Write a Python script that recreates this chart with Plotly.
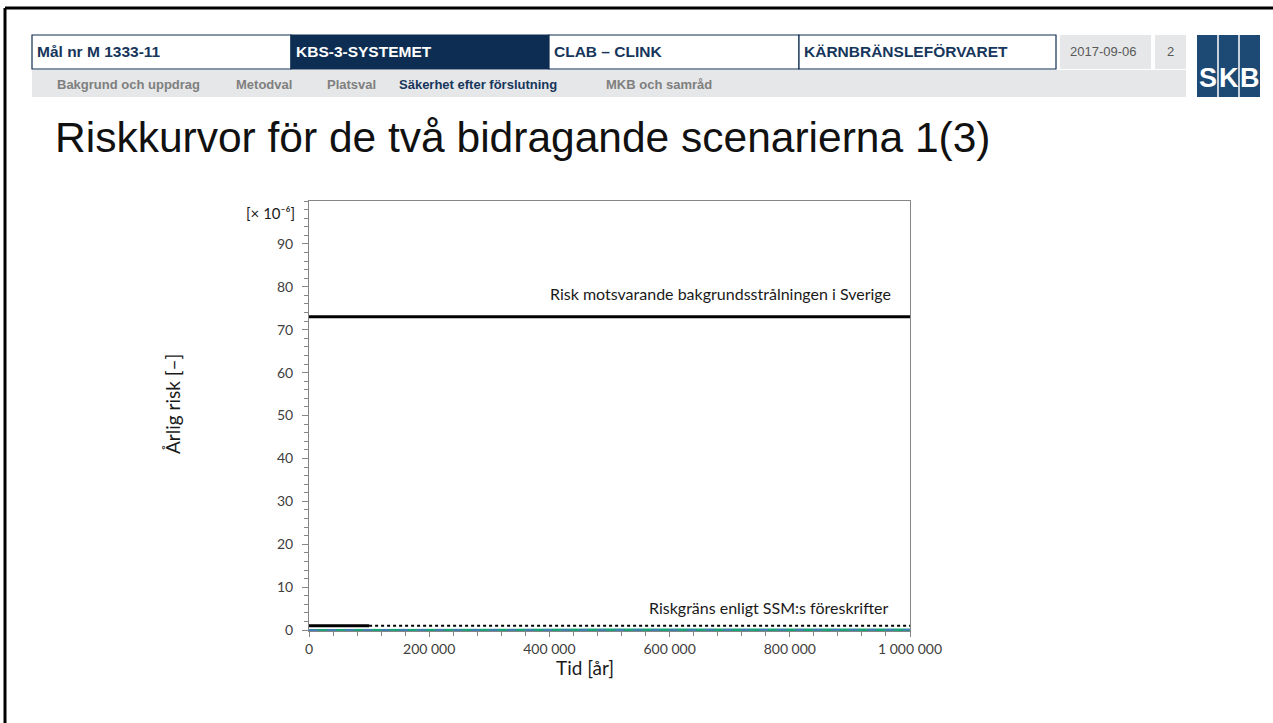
import plotly.graph_objects as go

W, H = 1273, 723

# ---------------- data ----------------
time_bg = [0, 1000000]
risk_bg = [73, 73]                      # background radiation risk (x1e-6)
time_limit_solid = [0, 100000]
risk_limit_solid = [1, 1]
time_limit_dotted = [100000, 1000000]
risk_limit_dotted = [1, 1]
time_scen = [0, 100000, 200000, 300000, 400000, 500000, 600000, 700000, 800000, 900000, 1000000]
risk_scen_a = [0.0, 0.05, 0.06, 0.07, 0.07, 0.08, 0.08, 0.08, 0.09, 0.09, 0.09]   # green
risk_scen_b = [0.0, 0.04, 0.05, 0.05, 0.06, 0.06, 0.06, 0.07, 0.07, 0.07, 0.07]   # blue dashed

x_tickvals = [0, 200000, 400000, 600000, 800000, 1000000]
x_ticktext = ["0", "200 000", "400 000", "600 000", "800 000", "1 000 000"]
y_tickvals = [0, 10, 20, 30, 40, 50, 60, 70, 80, 90]
y_ticktext = ["0", "10", "20", "30", "40", "50", "60", "70", "80", "90"]

header_row1 = ["Mål nr M 1333-11", "KBS-3-SYSTEMET", "CLAB – CLINK", "KÄRNBRÄNSLEFÖRVARET"]
header_row2 = ["Bakgrund och uppdrag", "Metodval", "Platsval", "Säkerhet efter förslutning", "MKB och samråd"]
header_date = "2017-09-06"
header_page = "2"
title_text = "Riskkurvor för de två bidragande scenarierna 1(3)"

# ---------------- helpers ----------------
def px(x):
    return x / W

def py(y):
    return 1 - y / H

NAVY = "#0e2d53"
NAVY_TXT = "#16365c"
GRAY_BG = "#e6e7e8"
GRAY_TXT = "#7f7f7f"
AXIS = "#868686"
TICKFONT = dict(family="Lato, 'Open Sans', sans-serif", size=14, color="#404040")
LBLFONT = dict(family="Lato, 'Open Sans', sans-serif", size=16, color="#1a1a1a")
TITLEFONT = dict(family="Lato, 'Open Sans', sans-serif", size=19, color="#1a1a1a")
HFONT = "Liberation Sans, Arial, sans-serif"

fig = go.Figure()

fig.add_trace(go.Scatter(x=time_bg, y=risk_bg, mode="lines",
                         line=dict(color="black", width=3), showlegend=False, hoverinfo="skip"))
fig.add_trace(go.Scatter(x=time_limit_solid, y=risk_limit_solid, mode="lines",
                         line=dict(color="black", width=3), showlegend=False, hoverinfo="skip"))
fig.add_trace(go.Scatter(x=time_limit_dotted, y=risk_limit_dotted, mode="lines",
                         line=dict(color="black", width=2, dash="dot"), showlegend=False, hoverinfo="skip"))
fig.add_trace(go.Scatter(x=time_scen, y=risk_scen_a, mode="lines",
                         line=dict(color="#1aa37a", width=2.5), showlegend=False, hoverinfo="skip"))
fig.add_trace(go.Scatter(x=time_scen, y=risk_scen_b, mode="lines",
                         line=dict(color="#4a78c0", width=1.5, dash="dash"), showlegend=False, hoverinfo="skip"))

x0p, x1p = 309, 910
ytop, ybot = 201, 631

fig.update_layout(
    width=W, height=H,
    margin=dict(l=0, r=0, t=0, b=0, autoexpand=False),
    paper_bgcolor="white", plot_bgcolor="white",
    showlegend=False,
    xaxis=dict(domain=[px(x0p), px(x1p)], range=[0, 1000000],
               tickvals=x_tickvals, ticktext=x_ticktext,
               showgrid=False, zeroline=False, layer="below traces",
               showline=True, mirror=True, linecolor=AXIS, linewidth=1,
               ticks="outside", ticklen=5, tickcolor=AXIS,
               minor=dict(dtick=40000, ticks="outside", ticklen=4, tickcolor=AXIS),
               tickfont=TICKFONT, ticklabelstandoff=0),
    yaxis=dict(domain=[py(ybot), py(ytop)], range=[-0.2, 100],
               tickvals=y_tickvals, ticktext=y_ticktext,
               showgrid=False, zeroline=False, layer="below traces",
               showline=True, mirror=True, linecolor=AXIS, linewidth=1,
               ticks="outside", ticklen=6, tickcolor=AXIS,
               minor=dict(dtick=2, ticks="outside", ticklen=4, tickcolor=AXIS),
               tickfont=TICKFONT, ticklabelstandoff=6),
)

shapes = []
ann = []

# slide frame (left + top black borders)
shapes.append(dict(type="line", xref="paper", yref="paper", x0=px(5), x1=1, y0=py(8), y1=py(8),
                   line=dict(color="black", width=3)))
shapes.append(dict(type="line", xref="paper", yref="paper", x0=px(5), x1=px(5), y0=0, y1=py(8),
                   line=dict(color="black", width=3)))

# header row 1 boxes
r1_top, r1_bot, r2_bot = 35, 69, 97
box_edges = [32, 291, 549, 799, 1056]
for i, label in enumerate(header_row1):
    xa, xb = box_edges[i], box_edges[i + 1]
    fill = NAVY if i == 1 else "white"
    shapes.append(dict(type="rect", xref="paper", yref="paper",
                       x0=px(xa), x1=px(xb), y0=py(r1_bot), y1=py(r1_top),
                       fillcolor=fill, line=dict(color=NAVY, width=1.2), layer="below"))
    ann.append(dict(text="<b>%s</b>" % label, xref="paper", yref="paper",
                    x=px(xa + 3), y=py((r1_top + r1_bot) / 2), xanchor="left", yanchor="middle",
                    showarrow=False,
                    font=dict(family=HFONT, size=15.5, color="white" if i == 1 else NAVY_TXT)))
# date and page boxes
shapes.append(dict(type="rect", xref="paper", yref="paper", x0=px(1060), x1=px(1151),
                   y0=py(r1_bot), y1=py(r1_top), fillcolor=GRAY_BG, line=dict(width=0), layer="below"))
shapes.append(dict(type="rect", xref="paper", yref="paper", x0=px(1155), x1=px(1186),
                   y0=py(r1_bot), y1=py(r1_top), fillcolor=GRAY_BG, line=dict(width=0), layer="below"))
ann.append(dict(text=header_date, xref="paper", yref="paper", x=px(1103), y=py(52),
                xanchor="center", yanchor="middle", showarrow=False,
                font=dict(family=HFONT, size=13, color="#595959")))
ann.append(dict(text=header_page, xref="paper", yref="paper", x=px(1170.5), y=py(52),
                xanchor="center", yanchor="middle", showarrow=False,
                font=dict(family=HFONT, size=13, color="#595959")))

# header row 2
shapes.append(dict(type="rect", xref="paper", yref="paper", x0=px(32), x1=px(1186),
                   y0=py(r2_bot), y1=py(r1_bot + 1), fillcolor=GRAY_BG, line=dict(width=0), layer="below"))
row2_x = [55, 234, 325, 397, 604]
for i, label in enumerate(header_row2):
    col = NAVY_TXT if i == 3 else GRAY_TXT
    ann.append(dict(text="<b>%s</b>" % label, xref="paper", yref="paper",
                    x=px(row2_x[i]), y=py(84), xanchor="left", yanchor="middle", showarrow=False,
                    font=dict(family=HFONT, size=13, color=col)))

# SKB logo
lx0, lx1, ly0, ly1 = 1197, 1260, 35, 97
LOGO = "#1d4a74"
shapes.append(dict(type="rect", xref="paper", yref="paper", x0=px(lx0), x1=px(lx1),
                   y0=py(ly1), y1=py(ly0), fillcolor=LOGO, line=dict(width=0), layer="below"))
cw = (lx1 - lx0) / 3
for k in (1, 2):
    xs = lx0 + k * cw
    shapes.append(dict(type="line", xref="paper", yref="paper", x0=px(xs), x1=px(xs),
                       y0=py(ly1), y1=py(ly0), line=dict(color="white", width=1.5)))
for k, ch in enumerate("SKB"):
    ann.append(dict(text="<b>%s</b>" % ch, xref="paper", yref="paper",
                    x=px(lx0 + (k + 0.5) * cw), y=py(78), xanchor="center", yanchor="middle",
                    showarrow=False,
                    font=dict(family=HFONT, size=27, color="white")))

# title
ann.append(dict(text=title_text, xref="paper", yref="paper", x=px(53), y=py(137),
                xanchor="left", yanchor="middle", showarrow=False,
                font=dict(family=HFONT, size=42.5, color="#111111")))

# chart texts
ann.append(dict(text="[× 10⁻⁶]", xref="paper", yref="paper", x=px(297), y=py(213),
                xanchor="right", yanchor="middle", showarrow=False,
                font=dict(family=TICKFONT["family"], size=15, color="#1a1a1a")))
ann.append(dict(text="Risk motsvarande bakgrundsstrålningen i Sverige", xref="paper", yref="paper",
                x=px(893), y=py(293), xanchor="right", yanchor="middle", showarrow=False, font=LBLFONT))
ann.append(dict(text="Riskgräns enligt SSM:s föreskrifter", xref="paper", yref="paper",
                x=px(891), y=py(607), xanchor="right", yanchor="middle", showarrow=False, font=LBLFONT))
ann.append(dict(text="Tid [år]", xref="paper", yref="paper", x=px(585), y=py(667),
                xanchor="center", yanchor="middle", showarrow=False, font=TITLEFONT))
ann.append(dict(text="Årlig risk [–]", xref="paper", yref="paper", x=px(172), y=py(404),
                xanchor="center", yanchor="middle", showarrow=False, textangle=-90, font=TITLEFONT))

fig.update_layout(shapes=shapes, annotations=ann)

post = (
    "var d=document;"
    "d.documentElement.style.margin='0';d.documentElement.style.padding='0';"
    "d.documentElement.style.overflow='hidden';"
    "d.body.style.margin='0';d.body.style.padding='0';d.body.style.overflow='hidden';"
    "var gd=d.getElementById('{plot_id}');"
    "Plotly.relayout(gd,{width:window.innerWidth,height:window.innerHeight});"
)

fig.write_html("out.html", config={"displayModeBar": False}, post_script=post)
